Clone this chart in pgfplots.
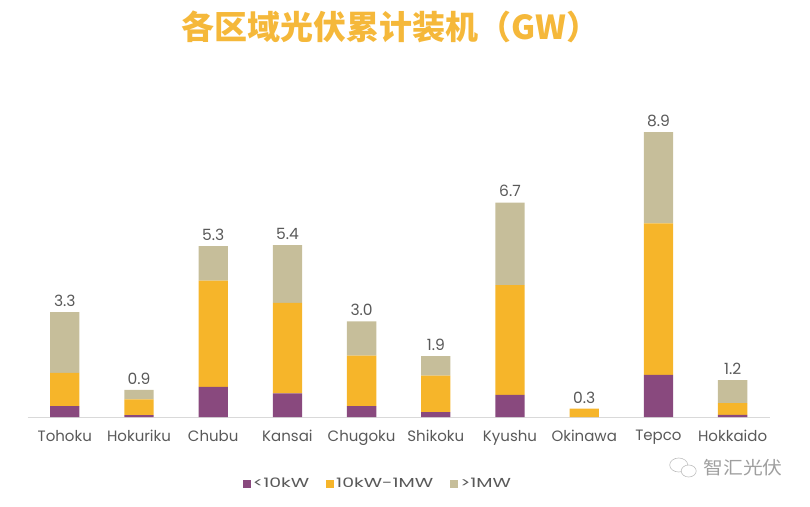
\documentclass[border=0pt]{standalone}
\usepackage{pgfplots}
\pgfplotsset{compat=1.18}
\usepackage{pgfplotstable}
\usepackage{fontspec}
\setmainfont{Poppins}
\newfontfamily\legfont{Poppins}[FakeStretch=1.45]
\newfontfamily\cjk{Noto Sans CJK SC}
\newfontfamily\cjkw{Noto Sans CJK SC}[FakeStretch=1.1]
\definecolor{cpurple}{RGB}{137,73,126}
\definecolor{cyellow}{RGB}{246,181,42}
\definecolor{cbeige}{RGB}{198,190,154}
\definecolor{ctitle}{RGB}{245,184,58}
\definecolor{ctext}{RGB}{89,89,89}
\definecolor{caxis}{RGB}{217,217,217}
\pgfplotstableread{
x a b c z t
0 0.34 1.04 1.90 0.0001 3.3
1 0.06 0.49 0.30 0.0001 0.9
2 0.94 3.32 1.08 0.0001 5.3
3 0.74 2.83 1.80 0.0001 5.4
4 0.34 1.58 1.07 0.0001 3.0
5 0.15 1.14 0.61 0.0001 1.9
6 0.69 3.43 2.58 0.0001 6.7
7 0.00 0.26 0.00 0.0001 0.3
8 1.32 4.73 2.85 0.0001 8.9
9 0.07 0.36 0.72 0.0001 1.2
}\data
\begin{document}
\begin{tikzpicture}
\useasboundingbox (-27.7pt,-89pt) rectangle (782.3pt,417pt);
\begin{axis}[
  scale only axis, width=742pt, height=320pt,
  ymin=0, ymax=10, xmin=-0.5, xmax=9.5,
  ybar stacked, bar width=29.3pt,
  axis y line=none, axis x line*=bottom,
  x axis line style={draw=caxis, line width=1pt, -},
  xtick={0,...,9},
  xticklabels={Tohoku,Hokuriku,Chubu,Kansai,Chugoku,Shikoku,Kyushu,Okinawa,Tepco,Hokkaido},
  major tick length=0pt,
  xticklabel style={font=\fontsize{15}{15}\selectfont, text=ctext, yshift=-10pt},
  legend style={at={(0.472,-0.209)}, anchor=center, legend columns=3, draw=none,
    font=\legfont\fontsize{13}{13}\selectfont, text=ctext,
    /tikz/every even column/.append style={column sep=15pt}},
  legend image code/.code={\fill[#1,draw=none] (0pt,-4pt) rectangle (8pt,4pt);},
]
\addplot[fill=cpurple, draw=none] table[x=x,y=a]{\data};
\addplot[fill=cyellow, draw=none] table[x=x,y=b]{\data};
\addplot[fill=cbeige, draw=none] table[x=x,y=c]{\data};
\addplot[draw=none, fill=none, forget plot, nodes near coords, point meta=explicit symbolic,
  every node near coord/.append style={font=\fontsize{15.5}{15.5}\selectfont, text=ctext, anchor=south, yshift=2pt}]
  table[x=x,y=z,meta=t]{\data};
\legend{<10kW,10kW-1MW,>1MW}
\end{axis}
\node[font=\cjk\bfseries\fontsize{33}{33}\selectfont, text=ctitle] at (363pt,390pt) {各区域光伏累计装机（GW）};
\node[font=\cjkw\fontsize{18}{18}\selectfont, text=gray!75] at (715.3pt,-51pt) {智汇光伏};
\draw[gray!50, line width=0.6pt] (651pt,-48pt) ellipse (9pt and 7pt);
\draw[gray!50, line width=0.6pt, fill=white] (661pt,-54pt) ellipse (7.5pt and 6pt);
\end{tikzpicture}
\end{document}
